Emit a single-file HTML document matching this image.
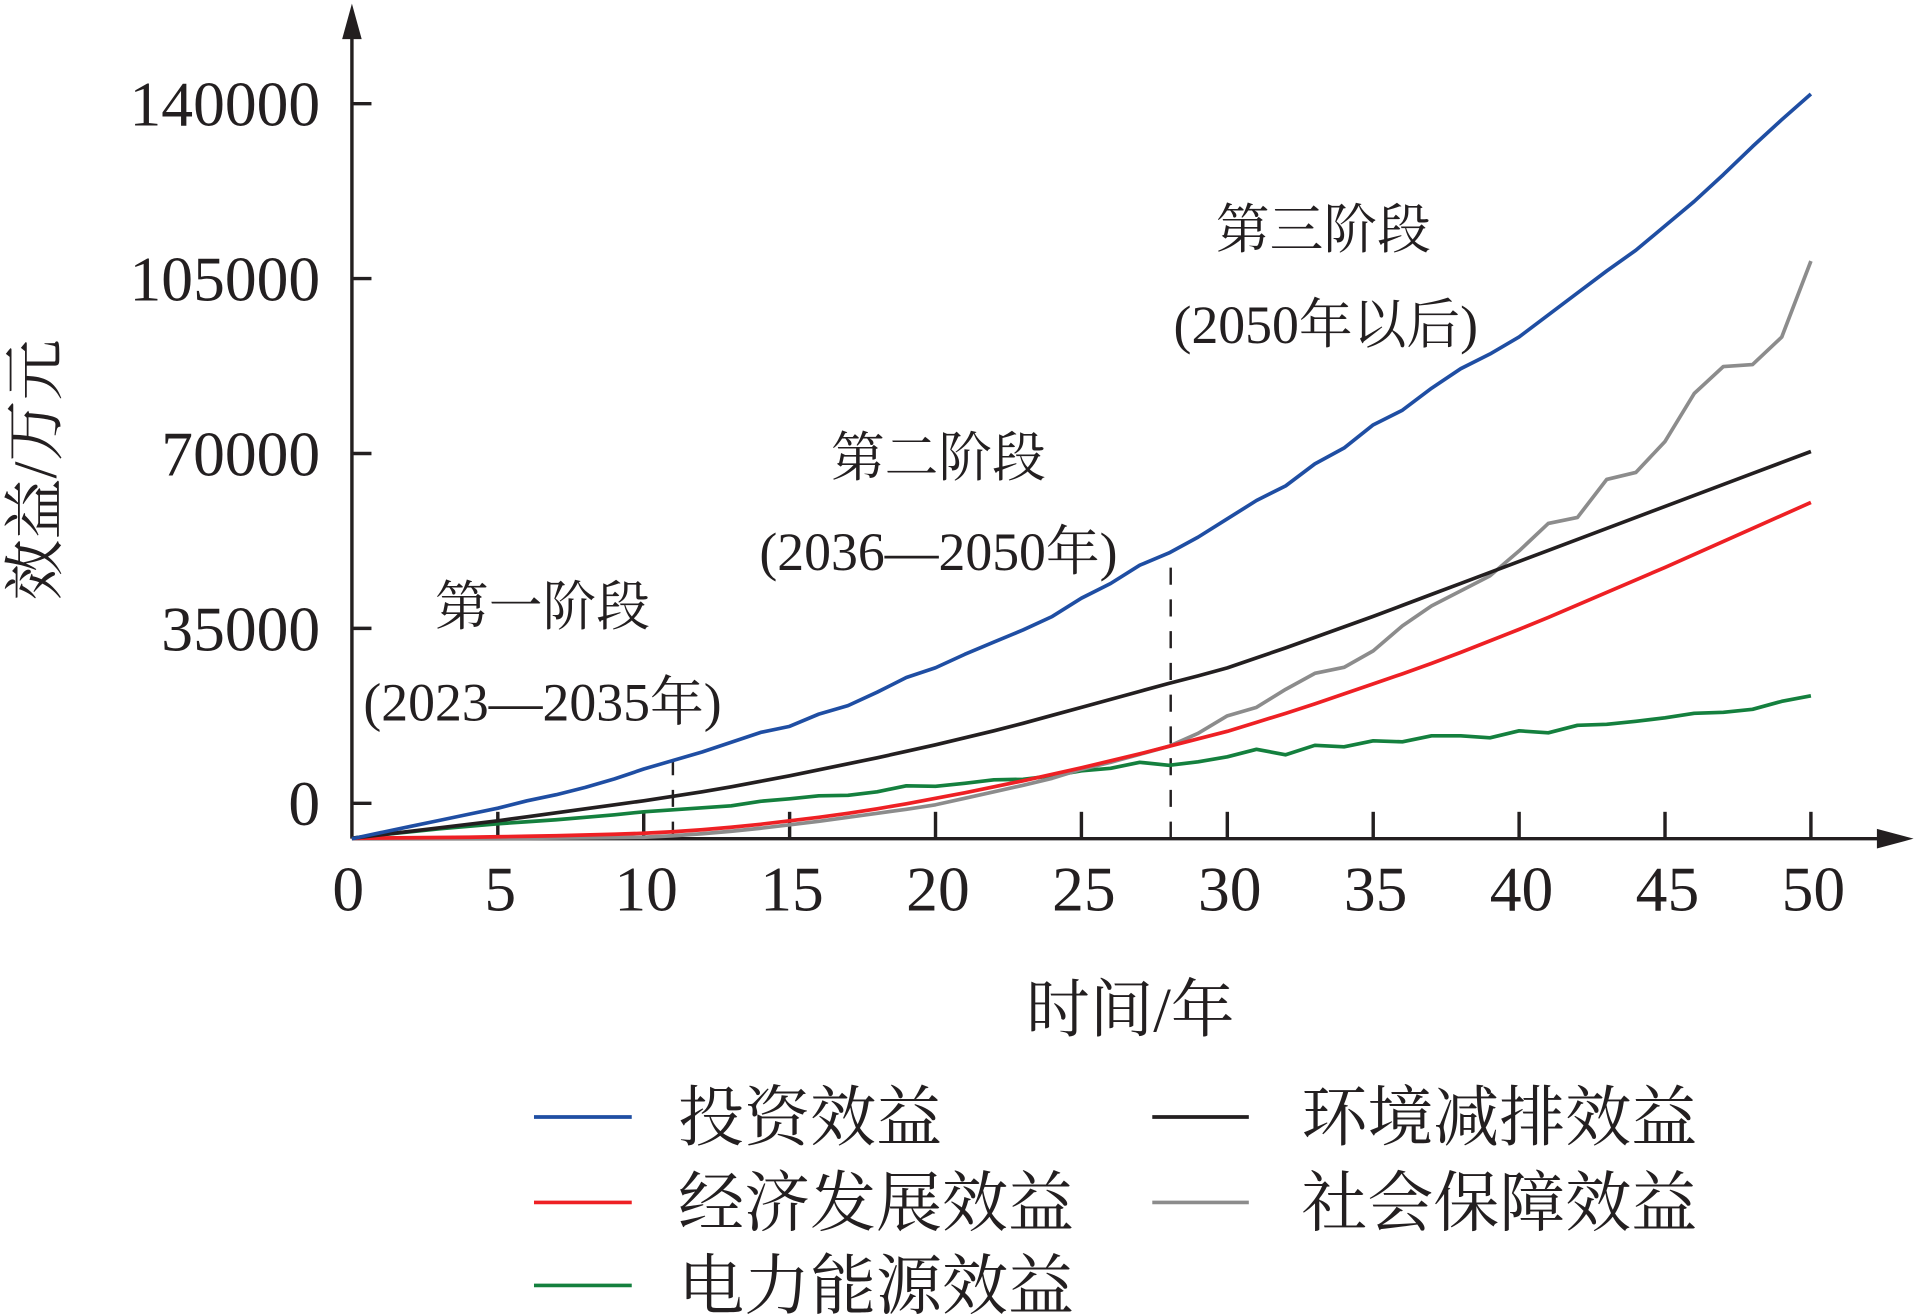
<!DOCTYPE html>
<html><head><meta charset="utf-8"><style>
html,body{margin:0;padding:0;background:#fff;}
svg{display:block;}
text{font-family:"Liberation Serif","Noto Serif CJK SC",serif;fill:#231f20;}
</style></head><body>
<svg id="chart" width="1916" height="1316" viewBox="0 0 1568 1078" preserveAspectRatio="none" xmlns="http://www.w3.org/2000/svg">
<g id="plot"></g>
<text transform="translate(46,385) rotate(-90)" text-anchor="middle" font-size="50">效益/万元</text>
<text x="925" y="845" text-anchor="middle" font-size="52">时间/年</text>
<text x="444" y="512" text-anchor="middle" font-size="44">第一阶段</text>
<text x="444" y="590" text-anchor="middle" font-size="44">(2023—2035年)</text>
<text x="768" y="390" text-anchor="middle" font-size="44">第二阶段</text>
<text x="768" y="467" text-anchor="middle" font-size="44">(2036—2050年)</text>
<text x="1083" y="203" text-anchor="middle" font-size="44">第三阶段</text>
<text x="1085" y="281" text-anchor="middle" font-size="44">(2050年以后)</text>
<g>
<line x1="437" y1="915" x2="517" y2="915" stroke="#1f4ea3" stroke-width="3"/><text x="555" y="934" font-size="54">投资效益</text>
<line x1="437" y1="985" x2="517" y2="985" stroke="#ee2024" stroke-width="3"/><text x="555" y="1004" font-size="54">经济发展效益</text>
<line x1="437" y1="1053" x2="517" y2="1053" stroke="#14803e" stroke-width="3"/><text x="555" y="1072" font-size="54">电力能源效益</text>
<line x1="943" y1="915" x2="1022" y2="915" stroke="#231f20" stroke-width="3"/><text x="1065" y="934" font-size="54">环境减排效益</text>
<line x1="943" y1="985" x2="1022" y2="985" stroke="#8c8c8c" stroke-width="3"/><text x="1065" y="1004" font-size="54">社会保障效益</text>
</g>
</svg>
<script>
const years = Array.from({length:51},(_,i)=>i);
const investment = [-7100,-5860,-4640,-3420,-2200,-980,490,1710,3180,4890,6850,8550,10260,12220,14170,15390,17840,19540,22230,25160,27120,29800,32250,34690,37380,41040,43980,47640,50090,53260,56920,60590,63520,67920,71090,75730,78660,83060,86970,89900,93320,97720,102120,106520,110670,115550,120440,125810,131430,136800,141940];
const environment = [-7000,-6300,-5600,-4900,-4200,-3500,-2700,-1900,-1100,-300,500,1400,2300,3300,4400,5500,6700,7900,9100,10400,11700,13100,14500,16000,17600,19200,20800,22400,24000,25500,27100,29100,31100,33200,35300,37400,39600,41800,44000,46200,48400,50600,52800,55000,57200,59400,61600,63800,66000,68200,70400];
const economic = [-7000,-6950,-6900,-6850,-6800,-6700,-6600,-6500,-6350,-6200,-6000,-5700,-5300,-4800,-4200,-3500,-2800,-2000,-1100,-100,1000,2100,3300,4500,5800,7100,8500,9900,11400,12900,14400,16200,18000,19900,21900,23900,25900,28000,30200,32500,34800,37200,39700,42200,44700,47200,49800,52400,55000,57600,60200];
const social = [-7000,-7000,-7000,-7000,-7000,-7000,-7000,-6950,-6900,-6850,-6800,-6500,-6100,-5600,-5000,-4300,-3600,-2800,-2000,-1200,-300,1000,2300,3600,5000,6800,8200,9800,11400,14000,17500,19200,22800,26000,27200,30500,35500,39500,42500,45500,50500,56000,57200,64800,66200,72400,82000,87400,87800,93300,108500];
const power = [-7000,-6300,-5700,-5100,-4600,-4100,-3700,-3300,-2800,-2300,-1700,-1300,-900,-500,400,900,1500,1600,2300,3500,3400,4000,4700,4800,5500,6500,7000,8200,7600,8300,9300,10800,9700,11600,11300,12500,12300,13500,13500,13100,14500,14100,15600,15800,16400,17100,18000,18200,18800,20400,21500];
const yTicks = [0,35000,70000,105000,140000];
const xTicks = [0,5,10,15,20,25,30,35,40,45,50];
const stageBounds = [11,28.06];

const NS="http://www.w3.org/2000/svg";
const g=document.getElementById('plot');
const X=t=>288+t*23.88;
const Y=v=>658-v/244.3;
function mk(tag,attrs){const e=document.createElementNS(NS,tag);for(const k in attrs)e.setAttribute(k,attrs[k]);g.appendChild(e);return e;}
let ax=mk('line',{x1:288,y1:687,x2:288,y2:20,stroke:'#231f20','stroke-width':2.8});


let ay=mk('polygon',{points:'288,3 280,32 296,32',fill:'#231f20'});


let bx=mk('line',{x1:288,y1:687,x2:1545,y2:687,stroke:'#231f20','stroke-width':2.8});


let by=mk('polygon',{points:'1566,687 1536,679 1536,695',fill:'#231f20'});


yTicks.forEach(v=>{
  const tk=mk('line',{x1:288,y1:Y(v),x2:304,y2:Y(v),stroke:'#231f20','stroke-width':2.8});
  
  
  const tx=mk('text',{x:262,y:Y(v)+18,'text-anchor':'end','font-size':52});
  tx.textContent=v;
  
  
});
xTicks.forEach(t=>{
  if(t>0){const tk=mk('line',{x1:X(t),y1:687,x2:X(t),y2:665,stroke:'#231f20','stroke-width':2.8});
  
  }
  const tx=mk('text',{x:t===0?285:X(t)+2,y:746,'text-anchor':'middle','font-size':52});
  tx.textContent=t;
  
  
});
stageBounds.forEach(t=>{
  const i=Math.floor(t),f=t-i;
  const v=investment[i]+(investment[Math.min(i+1,50)]-investment[i])*f;
  const d=mk('line',{x1:X(t),y1:687,x2:X(t),y2:Y(v),stroke:'#231f20','stroke-width':2,'stroke-dasharray':'14,12'});
  
  
});
function series(arr,color,name){
  const p=mk('polyline',{points:arr.map((v,i)=>X(years[i])+','+Y(v)).join(' '),fill:'none',stroke:color,'stroke-width':3,'stroke-linejoin':'round'});
  
  
}
series(power,'#14803e','power-line');
series(social,'#8c8c8c','social-line');
series(economic,'#ee2024','economic-line');
series(environment,'#231f20','environment-line');
series(investment,'#1f4ea3','investment-line');
</script>
</body></html>
